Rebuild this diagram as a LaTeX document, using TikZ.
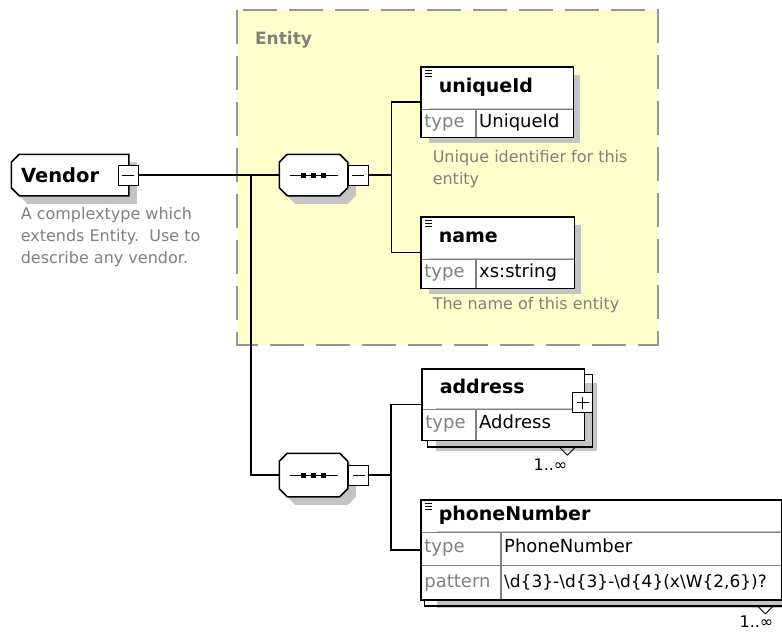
\documentclass[tikz,border=0pt]{standalone}
\usepackage{fontspec}
\setmainfont{DejaVu Sans}
\usepackage{xcolor}
\usepackage{tikz}
\usetikzlibrary{calc,fit,positioning}
\definecolor{xsyellow}{RGB}{255,255,204}
\definecolor{xsgray}{RGB}{128,128,128}
\definecolor{xsshade}{RGB}{196,196,196}
\definecolor{xsdash}{RGB}{150,150,150}

\begin{document}
\begin{tikzpicture}[x=1pt,y=-1pt,line width=1.5pt,
  note/.style={anchor=north west,inner sep=0,align=left,text=xsgray,font=\fontsize{16}{22}\selectfont},
  hdr/.style={anchor=north west,fill=white,inner xsep=17,inner ysep=0,minimum height=40,text height=14pt,text depth=4pt,align=left,font=\fontsize{19}{22}\selectfont\bfseries},
  cell/.style={anchor=north west,draw=xsgray,line width=.8pt,fill=white,inner xsep=3,inner ysep=0,minimum height=#1,text height=13pt,text depth=4pt,align=left,font=\fontsize{18}{21}\selectfont},
  key/.style={cell=#1,text=xsgray},
  frame/.style={draw,inner sep=0},
  seq/.style={minimum width=67,minimum height=40,inner sep=0},
  tog/.style={draw,fill=white,line width=1pt,minimum size=20,inner sep=0},
  sign/.style={line width=.9pt},
  card/.style={anchor=east,inner sep=0,font=\fontsize{16}{18}\selectfont}]
  \useasboundingbox[fill=white] (0,0) rectangle (782,632);

  \draw[xsdash,fill=xsyellow,line width=2pt,dash pattern=on 34pt off 12pt] (237,10) rectangle (658,345);
  \node[anchor=west,text=xsgray,font=\fontsize{17}{20}\selectfont\bfseries] (entity) at (251,40) {Entity};

  % Vendor
  \node[minimum width=116,minimum height=40,inner sep=0] (vendor) at (70,175) {};
  \fill[xsshade] ($(vendor.north west)+(16,8)$) -- ($(vendor.north east)+(8,8)$) -- ($(vendor.south east)+(8,8)$)
    -- ($(vendor.south west)+(16,8)$) -- ($(vendor.south west)+(8,0)$) -- ($(vendor.north west)+(8,16)$) -- cycle;
  \draw[fill=white] ($(vendor.north west)+(8,0)$) -- (vendor.north east) -- (vendor.south east)
    -- ($(vendor.south west)+(8,0)$) -- ($(vendor.south west)+(0,-8)$) -- ($(vendor.north west)+(0,8)$) -- cycle;
  \node[anchor=west,inner sep=0,font=\fontsize{19.5}{22}\selectfont\bfseries] (vendort) at ($(vendor.west)+(9,0)$) {Vendor};
  \node[tog] (vendorm) at (128,175) {};
  \draw[sign] ($(vendorm)+(-6,0)$) -- ++(12,0);
  \node[note] (vendord) at (20,207) {A complextype which\\extends Entity.\ \ Use to\\describe any vendor.};

  % sequences
  \node[seq] (seq1) at (313.5,175) {};
  \node[seq,minimum height=42] (seq2) at (313.5,475) {};
  \foreach \s in {seq1,seq2} {
    \fill[xsshade] ($(\s.north west)+(16,8)$) -- ($(\s.north east)+(0,8)$) -- ($(\s.north east)+(8,16)$)
      -- ($(\s.south east)+(8,0)$) -- ($(\s.south east)+(0,8)$) -- ($(\s.south west)+(16,8)$)
      -- ($(\s.south west)+(8,0)$) -- ($(\s.north west)+(8,16)$) -- cycle;
    \draw[fill=white] ($(\s.north west)+(8,0)$) -- ($(\s.north east)+(-8,0)$) -- ($(\s.north east)+(0,8)$)
      -- ($(\s.south east)+(0,-8)$) -- ($(\s.south east)+(-8,0)$) -- ($(\s.south west)+(8,0)$)
      -- ($(\s.south west)+(0,-8)$) -- ($(\s.north west)+(0,8)$) -- cycle;
    \draw[sign] ($(\s)+(-24,0)$) -- ++(48,0);
    \foreach \d in {-10,0,10} \fill ($(\s)+(\d,0)$) +(-2.5,-2.5) rectangle +(2.5,2.5);
  }
  \node[tog] (seq1m) at (358,175) {};
  \node[tog] (seq2m) at (358.5,475) {};
  \foreach \s in {seq1m,seq2m} \draw[sign] ($(\s)+(-6,0)$) -- ++(12,0);

  % uniqueId
  \fill[xsshade] (429,75) rectangle (580,143);
  \node[hdr,text width=117] (uid) at (421,67) {uniqueId};
  \node[key=28,text width=48] (uidk) at (uid.south west) {type};
  \node[cell=28,text width=91] (uidv) at (uidk.north east) {UniqueId};
  \node[frame,fit=(uid)(uidv)] (uidbox) {};
  \foreach \d in {3,6,9} \draw[sign] ($(uid.north west)+(4,\d)$) -- ++(7,0);
  \node[note] (uidd) at (432,150) {Unique identifier for this\\entity};

  % name
  \fill[xsshade] (429,225) rectangle (581,294);
  \node[hdr,text width=118] (name) at (421,217) {name};
  \node[key=29,text width=48] (namek) at (name.south west) {type};
  \node[cell=29,text width=92] (namev) at (namek.north east) {xs:string};
  \node[frame,fit=(name)(namev)] (namebox) {};
  \foreach \d in {3,6,9} \draw[sign] ($(name.north west)+(4,\d)$) -- ++(7,0);
  \node[note] (named) at (432,297) {The name of this entity};

  % address
  \fill[xsshade] (436,383) rectangle (597,451);
  \node[hdr,text width=127,minimum height=38] (addr) at (422,369) {address};
  \node[key=31,text width=47] (addrk) at (addr.south west) {type};
  \node[cell=31,text width=102] (addrv) at (addrk.north east) {Address};
  \node[frame,fit=(addr)(addrv)] (addrbox) {};
  \draw (addrbox.south west) ++(6,0) -- ++(0,6) -| ($(addrbox.north east)+(7,6)$) -- ++(-7,0);
  \node[tog] (addrp) at (582.5,402.5) {};
  \draw[sign] ($(addrp)+(-6,0)$) -- ++(12,0) ($(addrp)+(0,-6)$) -- ++(0,12);
  \draw[sign] ($(addrbox.south east)+(-26,6)$) -- ++(8,8) -- ++(8,-8);
  \node[card] (addrc) at (568,465) {1..∞};

  % phoneNumber
  \fill[xsshade] (437,510) rectangle (790,608);
  \node[hdr,text width=325,minimum height=30] (phone) at (421,500) {phoneNumber};
  \node[key=33,text width=73] (phonek1) at (phone.south west) {type};
  \node[cell=33,text width=274] (phonev1) at (phonek1.north east) {PhoneNumber};
  \node[key=34,text width=73] (phonek2) at (phonek1.south west) {pattern};
  \node[cell=34,text width=274,font=\fontsize{17}{20}\selectfont] (phonev2) at (phonek2.north east)
    {\textbackslash d\{3\}-\textbackslash d\{3\}-\textbackslash d\{4\}(x\textbackslash W\{2,6\})?};
  \node[frame,fit=(phone)(phonev2)] (phonebox) {};
  \draw (phonebox.south west) ++(4,0) -- ++(0,5) -- ++(370,0);
  \foreach \d in {3,6,9} \draw[sign] ($(phone.north west)+(4,\d)$) -- ++(7,0);
  \draw[sign] ($(phonebox.south east)+(-25,5)$) -- ++(8,8) -- ++(8,-8);
  \node[card] (phonec) at (774,622) {1..∞};

  \coordinate (fork) at (251,175);
  \draw (vendorm.east) -- (seq1.west);
  \draw (fork) |- (seq2.west);
  \draw (seq1m.east) -- ++(23,0) coordinate (bus1);
  \draw (bus1) |- (uidbox.west);
  \draw (bus1) |- (namebox.west);
  \draw (seq2m.east) -- ++(22,0) coordinate (bus2);
  \draw (bus2) |- (addrbox.west);
  \draw (bus2) |- (phonebox.west);
\end{tikzpicture}
\end{document}
